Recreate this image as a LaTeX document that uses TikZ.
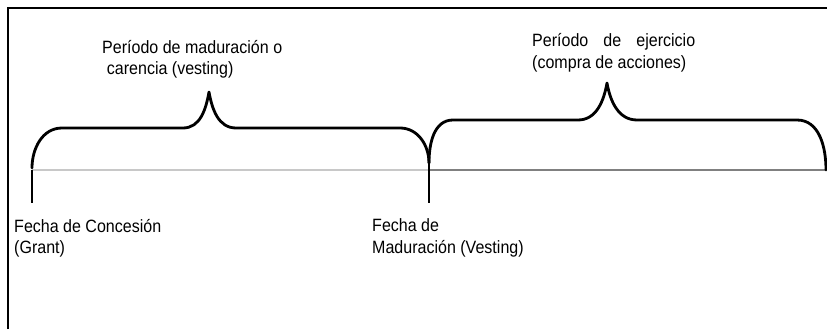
\documentclass[tikz,border=0pt]{standalone}
\usepackage{fontspec}
\setmainfont[FakeStretch=0.9]{Liberation Sans}
\usepackage{tikz}
\usetikzlibrary{positioning,calc}
\usepackage{xcolor}
\definecolor{tllight}{RGB}{200,200,200}
\definecolor{tldark}{RGB}{128,128,128}
\tikzstyle{brace} = [line width=2.4pt, line join=round, line cap=round]
\tikzstyle{tick} = [line width=2pt]
\tikzstyle{datelabel} = [inner sep=0pt, anchor=base west, align=left, font=\fontsize{15.2}{18.2}\selectfont]

\begin{document}
\begin{tikzpicture}[x=0.03cm, y=0.03cm]
    \useasboundingbox (0,0) rectangle (827,329);
    % Frame
    \draw[line width=1.8pt] (8,0) -- (8,321) -- (827,321);

    % Timeline
    \coordinate (grant) at (32,159);
    \coordinate (vest) at (429,159);
    \coordinate (fin) at (826,159);
    \draw[tllight, line width=1.5pt] (grant) -- (vest);
    \draw[tldark, line width=1.5pt] (vest) -- (fin);

    % Ticks
    \draw[tick] (grant) -- ++(0,-33);
    \draw[tick] ($(vest)+(0,7)$) -- ++(0,-40);

    % Braces
    \draw[brace] ($(grant)+(0,2)$) to[out=90,in=180] (62,201) -- (183,201)
        to[out=0,in=-100] (209,237) to[out=-80,in=180] (236,201) -- (400,201)
        to[out=0,in=90] ($(vest)+(0,7)$);
    \draw[brace] ($(vest)+(0,7)$) to[out=90,in=180] (453,209) -- (578,209)
        to[out=0,in=-100] (607,246) to[out=-80,in=180] (637,209) -- (797,209)
        to[out=0,in=90] (fin);

    % Labels (base = last line)
    \node[datelabel] (grantlbl) at (14,75) {Fecha de Concesión\\(Grant)};
    \node[datelabel] (vestlbl) at (372,76) {Fecha de\\Maduración (Vesting)};
    \node[datelabel] (vestper) at (102,254) {Período de maduración o\\\hspace*{4pt}carencia (vesting)};
    \node[datelabel, align=justify, text width=4.89cm] (exper) at (532,282) {Período de ejercicio (compra de acciones)};
\end{tikzpicture}
\end{document}
